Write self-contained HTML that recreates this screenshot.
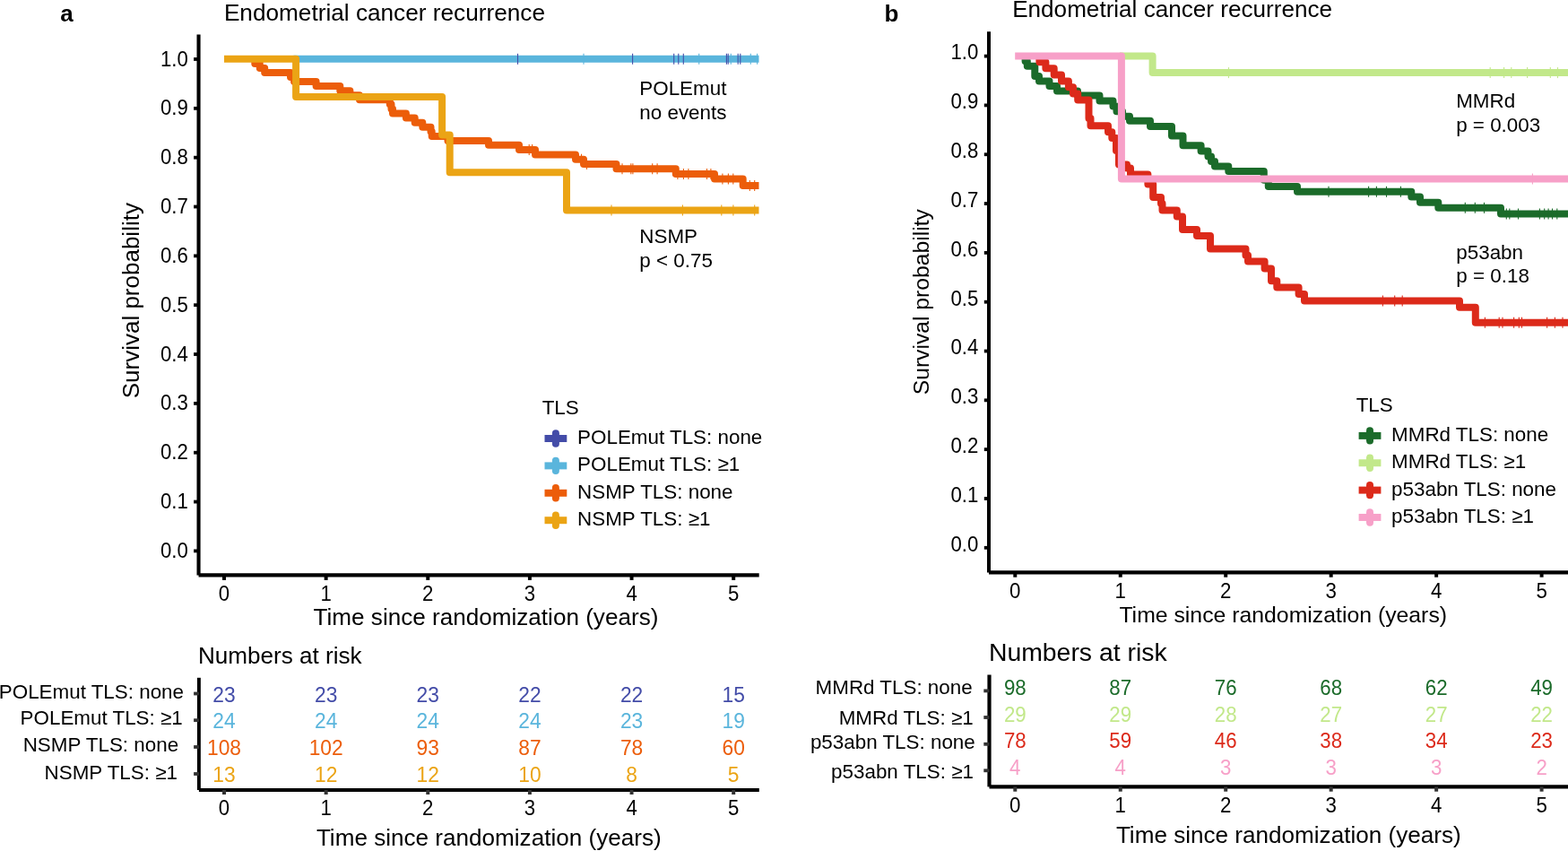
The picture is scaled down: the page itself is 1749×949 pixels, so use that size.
<!DOCTYPE html>
<html><head><meta charset="utf-8"><title>Endometrial cancer recurrence</title>
<style>html,body{margin:0;padding:0;background:#fff;overflow:hidden}svg{display:block}</style>
</head><body>
<svg width="1749" height="949" viewBox="0 0 1749 949" font-family='"Liberation Sans", Arial, Helvetica, sans-serif'>
<rect width="1749" height="949" fill="#fff"/>
<text x="67.20" y="24.00" font-size="26" font-weight="bold" fill="#000">a</text>
<text x="249.90" y="23.00" font-size="26.2" fill="#000">Endometrial cancer recurrence</text>
<line x1="221.55" y1="38.40" x2="221.55" y2="641.40" stroke="#000" stroke-width="4.1" stroke-linecap="butt"/>
<line x1="221.55" y1="641.40" x2="846.70" y2="641.40" stroke="#000" stroke-width="4.2" stroke-linecap="butt"/>
<line x1="216.10" y1="614.40" x2="221.55" y2="614.40" stroke="#000" stroke-width="3.8" stroke-linecap="butt"/>
<text transform="translate(209.80,622.00) scale(1,1.06)" font-size="22.2" text-anchor="end" fill="#000">0.0</text>
<line x1="216.10" y1="559.56" x2="221.55" y2="559.56" stroke="#000" stroke-width="3.8" stroke-linecap="butt"/>
<text transform="translate(209.80,567.16) scale(1,1.06)" font-size="22.2" text-anchor="end" fill="#000">0.1</text>
<line x1="216.10" y1="504.72" x2="221.55" y2="504.72" stroke="#000" stroke-width="3.8" stroke-linecap="butt"/>
<text transform="translate(209.80,512.32) scale(1,1.06)" font-size="22.2" text-anchor="end" fill="#000">0.2</text>
<line x1="216.10" y1="449.88" x2="221.55" y2="449.88" stroke="#000" stroke-width="3.8" stroke-linecap="butt"/>
<text transform="translate(209.80,457.48) scale(1,1.06)" font-size="22.2" text-anchor="end" fill="#000">0.3</text>
<line x1="216.10" y1="395.04" x2="221.55" y2="395.04" stroke="#000" stroke-width="3.8" stroke-linecap="butt"/>
<text transform="translate(209.80,402.64) scale(1,1.06)" font-size="22.2" text-anchor="end" fill="#000">0.4</text>
<line x1="216.10" y1="340.20" x2="221.55" y2="340.20" stroke="#000" stroke-width="3.8" stroke-linecap="butt"/>
<text transform="translate(209.80,347.80) scale(1,1.06)" font-size="22.2" text-anchor="end" fill="#000">0.5</text>
<line x1="216.10" y1="285.36" x2="221.55" y2="285.36" stroke="#000" stroke-width="3.8" stroke-linecap="butt"/>
<text transform="translate(209.80,292.96) scale(1,1.06)" font-size="22.2" text-anchor="end" fill="#000">0.6</text>
<line x1="216.10" y1="230.52" x2="221.55" y2="230.52" stroke="#000" stroke-width="3.8" stroke-linecap="butt"/>
<text transform="translate(209.80,238.12) scale(1,1.06)" font-size="22.2" text-anchor="end" fill="#000">0.7</text>
<line x1="216.10" y1="175.68" x2="221.55" y2="175.68" stroke="#000" stroke-width="3.8" stroke-linecap="butt"/>
<text transform="translate(209.80,183.28) scale(1,1.06)" font-size="22.2" text-anchor="end" fill="#000">0.8</text>
<line x1="216.10" y1="120.84" x2="221.55" y2="120.84" stroke="#000" stroke-width="3.8" stroke-linecap="butt"/>
<text transform="translate(209.80,128.44) scale(1,1.06)" font-size="22.2" text-anchor="end" fill="#000">0.9</text>
<line x1="216.10" y1="66.00" x2="221.55" y2="66.00" stroke="#000" stroke-width="3.8" stroke-linecap="butt"/>
<text transform="translate(209.80,73.60) scale(1,1.06)" font-size="22.2" text-anchor="end" fill="#000">1.0</text>
<line x1="250.00" y1="641.40" x2="250.00" y2="646.90" stroke="#000" stroke-width="4.0" stroke-linecap="butt"/>
<text transform="translate(250.00,669.70) scale(1,1.06)" font-size="22.2" text-anchor="middle" fill="#000">0</text>
<line x1="363.64" y1="641.40" x2="363.64" y2="646.90" stroke="#000" stroke-width="4.0" stroke-linecap="butt"/>
<text transform="translate(363.64,669.70) scale(1,1.06)" font-size="22.2" text-anchor="middle" fill="#000">1</text>
<line x1="477.28" y1="641.40" x2="477.28" y2="646.90" stroke="#000" stroke-width="4.0" stroke-linecap="butt"/>
<text transform="translate(477.28,669.70) scale(1,1.06)" font-size="22.2" text-anchor="middle" fill="#000">2</text>
<line x1="590.92" y1="641.40" x2="590.92" y2="646.90" stroke="#000" stroke-width="4.0" stroke-linecap="butt"/>
<text transform="translate(590.92,669.70) scale(1,1.06)" font-size="22.2" text-anchor="middle" fill="#000">3</text>
<line x1="704.56" y1="641.40" x2="704.56" y2="646.90" stroke="#000" stroke-width="4.0" stroke-linecap="butt"/>
<text transform="translate(704.56,669.70) scale(1,1.06)" font-size="22.2" text-anchor="middle" fill="#000">4</text>
<line x1="818.20" y1="641.40" x2="818.20" y2="646.90" stroke="#000" stroke-width="4.0" stroke-linecap="butt"/>
<text transform="translate(818.20,669.70) scale(1,1.06)" font-size="22.2" text-anchor="middle" fill="#000">5</text>
<text x="349.60" y="697.00" font-size="26.1" fill="#000">Time since randomization (years)</text>
<text transform="translate(154.5,444.3) rotate(-90)" font-size="26" fill="#000">Survival probability</text>
<path d="M327.50 65.80H846.50" fill="none" stroke="#5AB5DC" stroke-width="8" stroke-linejoin="round" stroke-linecap="butt"/>
<path d="M284.30 65.80H284.30V70.90H289.80V75.90H295.20V80.90H324.00V86.00H328.10V91.00H352.60V96.10H379.30V101.20H390.40V106.30H401.00V111.20H434.80V116.30H436.50V121.40H438.00V126.40H452.90V131.60H462.70V136.70H471.30V141.70H480.50V146.80H481.70V152.00H499.50V156.90H545.00V161.80H579.00V167.00H597.00V172.40H642.00V177.70H651.00V182.90H687.50V188.20H753.80V194.00H797.00V199.50H828.70V207.00H846.50" fill="none" stroke="#EC5D0A" stroke-width="8" stroke-linejoin="round" stroke-linecap="butt"/>
<path d="M250.00 65.80H330.10V108.00H493.10V150.40H501.70V192.20H632.00V234.50H846.50" fill="none" stroke="#EBA415" stroke-width="8" stroke-linejoin="round" stroke-linecap="butt"/>
<line x1="577.50" y1="59.80" x2="577.50" y2="71.80" stroke="#434CA8" stroke-width="1.1" stroke-linecap="butt"/>
<line x1="705.60" y1="59.80" x2="705.60" y2="71.80" stroke="#434CA8" stroke-width="1.1" stroke-linecap="butt"/>
<line x1="751.70" y1="59.80" x2="751.70" y2="71.80" stroke="#434CA8" stroke-width="1.1" stroke-linecap="butt"/>
<line x1="756.80" y1="59.80" x2="756.80" y2="71.80" stroke="#434CA8" stroke-width="1.1" stroke-linecap="butt"/>
<line x1="762.30" y1="59.80" x2="762.30" y2="71.80" stroke="#434CA8" stroke-width="1.1" stroke-linecap="butt"/>
<line x1="810.40" y1="59.80" x2="810.40" y2="71.80" stroke="#434CA8" stroke-width="1.1" stroke-linecap="butt"/>
<line x1="812.20" y1="59.80" x2="812.20" y2="71.80" stroke="#434CA8" stroke-width="1.1" stroke-linecap="butt"/>
<line x1="823.20" y1="59.80" x2="823.20" y2="71.80" stroke="#434CA8" stroke-width="1.1" stroke-linecap="butt"/>
<line x1="825.80" y1="59.80" x2="825.80" y2="71.80" stroke="#434CA8" stroke-width="1.1" stroke-linecap="butt"/>
<line x1="651.00" y1="59.80" x2="651.00" y2="71.80" stroke="#5AB5DC" stroke-width="1.1" stroke-linecap="butt"/>
<line x1="779.70" y1="59.80" x2="779.70" y2="71.80" stroke="#5AB5DC" stroke-width="1.1" stroke-linecap="butt"/>
<line x1="815.30" y1="59.80" x2="815.30" y2="71.80" stroke="#5AB5DC" stroke-width="1.1" stroke-linecap="butt"/>
<line x1="837.30" y1="59.80" x2="837.30" y2="71.80" stroke="#5AB5DC" stroke-width="1.1" stroke-linecap="butt"/>
<line x1="844.60" y1="59.80" x2="844.60" y2="71.80" stroke="#5AB5DC" stroke-width="1.1" stroke-linecap="butt"/>
<line x1="590.20" y1="160.90" x2="590.20" y2="172.90" stroke="#EC5D0A" stroke-width="1.1" stroke-linecap="butt"/>
<line x1="593.60" y1="160.90" x2="593.60" y2="172.90" stroke="#EC5D0A" stroke-width="1.1" stroke-linecap="butt"/>
<line x1="648.50" y1="171.70" x2="648.50" y2="183.70" stroke="#EC5D0A" stroke-width="1.1" stroke-linecap="butt"/>
<line x1="654.50" y1="176.90" x2="654.50" y2="188.90" stroke="#EC5D0A" stroke-width="1.1" stroke-linecap="butt"/>
<line x1="694.00" y1="182.20" x2="694.00" y2="194.20" stroke="#EC5D0A" stroke-width="1.1" stroke-linecap="butt"/>
<line x1="703.80" y1="182.20" x2="703.80" y2="194.20" stroke="#EC5D0A" stroke-width="1.1" stroke-linecap="butt"/>
<line x1="705.90" y1="182.20" x2="705.90" y2="194.20" stroke="#EC5D0A" stroke-width="1.1" stroke-linecap="butt"/>
<line x1="727.70" y1="182.20" x2="727.70" y2="194.20" stroke="#EC5D0A" stroke-width="1.1" stroke-linecap="butt"/>
<line x1="733.10" y1="182.20" x2="733.10" y2="194.20" stroke="#EC5D0A" stroke-width="1.1" stroke-linecap="butt"/>
<line x1="755.90" y1="188.00" x2="755.90" y2="200.00" stroke="#EC5D0A" stroke-width="1.1" stroke-linecap="butt"/>
<line x1="762.40" y1="188.00" x2="762.40" y2="200.00" stroke="#EC5D0A" stroke-width="1.1" stroke-linecap="butt"/>
<line x1="767.90" y1="188.00" x2="767.90" y2="200.00" stroke="#EC5D0A" stroke-width="1.1" stroke-linecap="butt"/>
<line x1="788.50" y1="188.00" x2="788.50" y2="200.00" stroke="#EC5D0A" stroke-width="1.1" stroke-linecap="butt"/>
<line x1="792.90" y1="188.00" x2="792.90" y2="200.00" stroke="#EC5D0A" stroke-width="1.1" stroke-linecap="butt"/>
<line x1="805.90" y1="193.50" x2="805.90" y2="205.50" stroke="#EC5D0A" stroke-width="1.1" stroke-linecap="butt"/>
<line x1="812.40" y1="193.50" x2="812.40" y2="205.50" stroke="#EC5D0A" stroke-width="1.1" stroke-linecap="butt"/>
<line x1="817.80" y1="193.50" x2="817.80" y2="205.50" stroke="#EC5D0A" stroke-width="1.1" stroke-linecap="butt"/>
<line x1="836.30" y1="201.00" x2="836.30" y2="213.00" stroke="#EC5D0A" stroke-width="1.1" stroke-linecap="butt"/>
<line x1="841.70" y1="201.00" x2="841.70" y2="213.00" stroke="#EC5D0A" stroke-width="1.1" stroke-linecap="butt"/>
<line x1="682.00" y1="228.50" x2="682.00" y2="240.50" stroke="#EBA415" stroke-width="1.1" stroke-linecap="butt"/>
<line x1="761.40" y1="228.50" x2="761.40" y2="240.50" stroke="#EBA415" stroke-width="1.1" stroke-linecap="butt"/>
<line x1="804.80" y1="228.50" x2="804.80" y2="240.50" stroke="#EBA415" stroke-width="1.1" stroke-linecap="butt"/>
<line x1="817.90" y1="228.50" x2="817.90" y2="240.50" stroke="#EBA415" stroke-width="1.1" stroke-linecap="butt"/>
<line x1="841.70" y1="228.50" x2="841.70" y2="240.50" stroke="#EBA415" stroke-width="1.1" stroke-linecap="butt"/>
<text x="713.30" y="106.20" font-size="22.4" fill="#000">POLEmut</text>
<text x="713.30" y="132.80" font-size="22.4" fill="#000">no events</text>
<text x="713.30" y="270.90" font-size="22.4" fill="#000">NSMP</text>
<text x="713.30" y="297.50" font-size="22.4" fill="#000">p &lt; 0.75</text>
<text x="604.70" y="461.70" font-size="22.4" fill="#000">TLS</text>
<line x1="607.50" y1="489.00" x2="632.30" y2="489.00" stroke="#434CA8" stroke-width="8" stroke-linecap="butt"/>
<line x1="619.90" y1="483.30" x2="619.90" y2="494.70" stroke="#434CA8" stroke-width="8" stroke-linecap="round"/>
<text x="644.10" y="494.90" font-size="22.4" fill="#000">POLEmut TLS: none</text>
<line x1="607.50" y1="519.40" x2="632.30" y2="519.40" stroke="#5AB5DC" stroke-width="8" stroke-linecap="butt"/>
<line x1="619.90" y1="513.70" x2="619.90" y2="525.10" stroke="#5AB5DC" stroke-width="8" stroke-linecap="round"/>
<text x="644.10" y="525.30" font-size="22.4" fill="#000">POLEmut TLS: ≥1</text>
<line x1="607.50" y1="549.80" x2="632.30" y2="549.80" stroke="#EC5D0A" stroke-width="8" stroke-linecap="butt"/>
<line x1="619.90" y1="544.10" x2="619.90" y2="555.50" stroke="#EC5D0A" stroke-width="8" stroke-linecap="round"/>
<text x="644.10" y="555.70" font-size="22.4" fill="#000">NSMP TLS: none</text>
<line x1="607.50" y1="580.20" x2="632.30" y2="580.20" stroke="#EBA415" stroke-width="8" stroke-linecap="butt"/>
<line x1="619.90" y1="574.50" x2="619.90" y2="585.90" stroke="#EBA415" stroke-width="8" stroke-linecap="round"/>
<text x="644.10" y="586.10" font-size="22.4" fill="#000">NSMP TLS: ≥1</text>
<text x="220.90" y="740.10" font-size="26.1" fill="#000">Numbers at risk</text>
<line x1="221.90" y1="755.80" x2="221.90" y2="881.00" stroke="#000" stroke-width="3.9" stroke-linecap="butt"/>
<line x1="221.90" y1="881.00" x2="846.80" y2="881.00" stroke="#000" stroke-width="3.9" stroke-linecap="butt"/>
<text x="-1.20" y="778.50" font-size="22.4" fill="#000">POLEmut TLS: none</text>
<line x1="216.10" y1="773.50" x2="221.90" y2="773.50" stroke="#333333" stroke-width="3.8" stroke-linecap="butt"/>
<text transform="translate(250.00,782.50) scale(1,1.06)" font-size="22.8" text-anchor="middle" fill="#434CA8">23</text>
<text transform="translate(363.64,782.50) scale(1,1.06)" font-size="22.8" text-anchor="middle" fill="#434CA8">23</text>
<text transform="translate(477.28,782.50) scale(1,1.06)" font-size="22.8" text-anchor="middle" fill="#434CA8">23</text>
<text transform="translate(590.92,782.50) scale(1,1.06)" font-size="22.8" text-anchor="middle" fill="#434CA8">22</text>
<text transform="translate(704.56,782.50) scale(1,1.06)" font-size="22.8" text-anchor="middle" fill="#434CA8">22</text>
<text transform="translate(818.20,782.50) scale(1,1.06)" font-size="22.8" text-anchor="middle" fill="#434CA8">15</text>
<text x="22.60" y="808.00" font-size="22.4" fill="#000">POLEmut TLS: ≥1</text>
<line x1="216.10" y1="803.20" x2="221.90" y2="803.20" stroke="#333333" stroke-width="3.8" stroke-linecap="butt"/>
<text transform="translate(250.00,811.90) scale(1,1.06)" font-size="22.8" text-anchor="middle" fill="#5AB5DC">24</text>
<text transform="translate(363.64,811.90) scale(1,1.06)" font-size="22.8" text-anchor="middle" fill="#5AB5DC">24</text>
<text transform="translate(477.28,811.90) scale(1,1.06)" font-size="22.8" text-anchor="middle" fill="#5AB5DC">24</text>
<text transform="translate(590.92,811.90) scale(1,1.06)" font-size="22.8" text-anchor="middle" fill="#5AB5DC">24</text>
<text transform="translate(704.56,811.90) scale(1,1.06)" font-size="22.8" text-anchor="middle" fill="#5AB5DC">23</text>
<text transform="translate(818.20,811.90) scale(1,1.06)" font-size="22.8" text-anchor="middle" fill="#5AB5DC">19</text>
<text x="25.70" y="838.00" font-size="22.4" fill="#000">NSMP TLS: none</text>
<line x1="216.10" y1="833.00" x2="221.90" y2="833.00" stroke="#333333" stroke-width="3.8" stroke-linecap="butt"/>
<text transform="translate(250.00,841.70) scale(1,1.06)" font-size="22.8" text-anchor="middle" fill="#EC5D0A">108</text>
<text transform="translate(363.64,841.70) scale(1,1.06)" font-size="22.8" text-anchor="middle" fill="#EC5D0A">102</text>
<text transform="translate(477.28,841.70) scale(1,1.06)" font-size="22.8" text-anchor="middle" fill="#EC5D0A">93</text>
<text transform="translate(590.92,841.70) scale(1,1.06)" font-size="22.8" text-anchor="middle" fill="#EC5D0A">87</text>
<text transform="translate(704.56,841.70) scale(1,1.06)" font-size="22.8" text-anchor="middle" fill="#EC5D0A">78</text>
<text transform="translate(818.20,841.70) scale(1,1.06)" font-size="22.8" text-anchor="middle" fill="#EC5D0A">60</text>
<text x="49.60" y="868.50" font-size="22.4" fill="#000">NSMP TLS: ≥1</text>
<line x1="216.10" y1="863.00" x2="221.90" y2="863.00" stroke="#333333" stroke-width="3.8" stroke-linecap="butt"/>
<text transform="translate(250.00,871.90) scale(1,1.06)" font-size="22.8" text-anchor="middle" fill="#EBA415">13</text>
<text transform="translate(363.64,871.90) scale(1,1.06)" font-size="22.8" text-anchor="middle" fill="#EBA415">12</text>
<text transform="translate(477.28,871.90) scale(1,1.06)" font-size="22.8" text-anchor="middle" fill="#EBA415">12</text>
<text transform="translate(590.92,871.90) scale(1,1.06)" font-size="22.8" text-anchor="middle" fill="#EBA415">10</text>
<text transform="translate(704.56,871.90) scale(1,1.06)" font-size="22.8" text-anchor="middle" fill="#EBA415">8</text>
<text transform="translate(818.20,871.90) scale(1,1.06)" font-size="22.8" text-anchor="middle" fill="#EBA415">5</text>
<line x1="250.00" y1="881.00" x2="250.00" y2="886.00" stroke="#333333" stroke-width="4.0" stroke-linecap="butt"/>
<text transform="translate(250.00,908.90) scale(1,1.06)" font-size="22.2" text-anchor="middle" fill="#000">0</text>
<line x1="363.64" y1="881.00" x2="363.64" y2="886.00" stroke="#333333" stroke-width="4.0" stroke-linecap="butt"/>
<text transform="translate(363.64,908.90) scale(1,1.06)" font-size="22.2" text-anchor="middle" fill="#000">1</text>
<line x1="477.28" y1="881.00" x2="477.28" y2="886.00" stroke="#333333" stroke-width="4.0" stroke-linecap="butt"/>
<text transform="translate(477.28,908.90) scale(1,1.06)" font-size="22.2" text-anchor="middle" fill="#000">2</text>
<line x1="590.92" y1="881.00" x2="590.92" y2="886.00" stroke="#333333" stroke-width="4.0" stroke-linecap="butt"/>
<text transform="translate(590.92,908.90) scale(1,1.06)" font-size="22.2" text-anchor="middle" fill="#000">3</text>
<line x1="704.56" y1="881.00" x2="704.56" y2="886.00" stroke="#333333" stroke-width="4.0" stroke-linecap="butt"/>
<text transform="translate(704.56,908.90) scale(1,1.06)" font-size="22.2" text-anchor="middle" fill="#000">4</text>
<line x1="818.20" y1="881.00" x2="818.20" y2="886.00" stroke="#333333" stroke-width="4.0" stroke-linecap="butt"/>
<text transform="translate(818.20,908.90) scale(1,1.06)" font-size="22.2" text-anchor="middle" fill="#000">5</text>
<text x="352.90" y="943.40" font-size="26.1" fill="#000">Time since randomization (years)</text>
<text x="986.40" y="24.10" font-size="26" font-weight="bold" fill="#000">b</text>
<text x="1129.20" y="19.00" font-size="26.1" fill="#000">Endometrial cancer recurrence</text>
<line x1="1103.00" y1="35.20" x2="1103.00" y2="638.40" stroke="#000" stroke-width="4.0" stroke-linecap="butt"/>
<line x1="1103.00" y1="638.40" x2="1752.00" y2="638.40" stroke="#000" stroke-width="4.1" stroke-linecap="butt"/>
<line x1="1097.80" y1="610.80" x2="1103.00" y2="610.80" stroke="#000" stroke-width="3.8" stroke-linecap="butt"/>
<text transform="translate(1091.30,614.60) scale(1,1.06)" font-size="22.2" text-anchor="end" fill="#000">0.0</text>
<line x1="1097.80" y1="555.98" x2="1103.00" y2="555.98" stroke="#000" stroke-width="3.8" stroke-linecap="butt"/>
<text transform="translate(1091.30,559.78) scale(1,1.06)" font-size="22.2" text-anchor="end" fill="#000">0.1</text>
<line x1="1097.80" y1="501.16" x2="1103.00" y2="501.16" stroke="#000" stroke-width="3.8" stroke-linecap="butt"/>
<text transform="translate(1091.30,504.96) scale(1,1.06)" font-size="22.2" text-anchor="end" fill="#000">0.2</text>
<line x1="1097.80" y1="446.34" x2="1103.00" y2="446.34" stroke="#000" stroke-width="3.8" stroke-linecap="butt"/>
<text transform="translate(1091.30,450.14) scale(1,1.06)" font-size="22.2" text-anchor="end" fill="#000">0.3</text>
<line x1="1097.80" y1="391.52" x2="1103.00" y2="391.52" stroke="#000" stroke-width="3.8" stroke-linecap="butt"/>
<text transform="translate(1091.30,395.32) scale(1,1.06)" font-size="22.2" text-anchor="end" fill="#000">0.4</text>
<line x1="1097.80" y1="336.70" x2="1103.00" y2="336.70" stroke="#000" stroke-width="3.8" stroke-linecap="butt"/>
<text transform="translate(1091.30,340.50) scale(1,1.06)" font-size="22.2" text-anchor="end" fill="#000">0.5</text>
<line x1="1097.80" y1="281.88" x2="1103.00" y2="281.88" stroke="#000" stroke-width="3.8" stroke-linecap="butt"/>
<text transform="translate(1091.30,285.68) scale(1,1.06)" font-size="22.2" text-anchor="end" fill="#000">0.6</text>
<line x1="1097.80" y1="227.06" x2="1103.00" y2="227.06" stroke="#000" stroke-width="3.8" stroke-linecap="butt"/>
<text transform="translate(1091.30,230.86) scale(1,1.06)" font-size="22.2" text-anchor="end" fill="#000">0.7</text>
<line x1="1097.80" y1="172.24" x2="1103.00" y2="172.24" stroke="#000" stroke-width="3.8" stroke-linecap="butt"/>
<text transform="translate(1091.30,176.04) scale(1,1.06)" font-size="22.2" text-anchor="end" fill="#000">0.8</text>
<line x1="1097.80" y1="117.42" x2="1103.00" y2="117.42" stroke="#000" stroke-width="3.8" stroke-linecap="butt"/>
<text transform="translate(1091.30,121.22) scale(1,1.06)" font-size="22.2" text-anchor="end" fill="#000">0.9</text>
<line x1="1097.80" y1="62.60" x2="1103.00" y2="62.60" stroke="#000" stroke-width="3.8" stroke-linecap="butt"/>
<text transform="translate(1091.30,66.40) scale(1,1.06)" font-size="22.2" text-anchor="end" fill="#000">1.0</text>
<line x1="1132.30" y1="638.40" x2="1132.30" y2="643.70" stroke="#000" stroke-width="4.0" stroke-linecap="butt"/>
<text transform="translate(1132.30,666.60) scale(1,1.06)" font-size="22.3" text-anchor="middle" fill="#000">0</text>
<line x1="1249.76" y1="638.40" x2="1249.76" y2="643.70" stroke="#000" stroke-width="4.0" stroke-linecap="butt"/>
<text transform="translate(1249.76,666.60) scale(1,1.06)" font-size="22.3" text-anchor="middle" fill="#000">1</text>
<line x1="1367.22" y1="638.40" x2="1367.22" y2="643.70" stroke="#000" stroke-width="4.0" stroke-linecap="butt"/>
<text transform="translate(1367.22,666.60) scale(1,1.06)" font-size="22.3" text-anchor="middle" fill="#000">2</text>
<line x1="1484.68" y1="638.40" x2="1484.68" y2="643.70" stroke="#000" stroke-width="4.0" stroke-linecap="butt"/>
<text transform="translate(1484.68,666.60) scale(1,1.06)" font-size="22.3" text-anchor="middle" fill="#000">3</text>
<line x1="1602.14" y1="638.40" x2="1602.14" y2="643.70" stroke="#000" stroke-width="4.0" stroke-linecap="butt"/>
<text transform="translate(1602.14,666.60) scale(1,1.06)" font-size="22.3" text-anchor="middle" fill="#000">4</text>
<line x1="1719.60" y1="638.40" x2="1719.60" y2="643.70" stroke="#000" stroke-width="4.0" stroke-linecap="butt"/>
<text transform="translate(1719.60,666.60) scale(1,1.06)" font-size="22.3" text-anchor="middle" fill="#000">5</text>
<text x="1248.40" y="693.80" font-size="24.8" fill="#000">Time since randomization (years)</text>
<text transform="translate(1035.6,440.3) rotate(-90)" font-size="24.7" fill="#000">Survival probability</text>
<path d="M1143.60 62.50H1143.60V68.20H1145.80V73.70H1154.30V84.90H1159.00V90.50H1170.50V96.00H1179.00V101.60H1202.00V106.60H1226.50V112.60H1241.50V118.60H1245.50V124.30H1252.00V129.80H1260.00V134.80H1283.00V140.90H1307.00V151.60H1319.50V162.30H1339.60V168.60H1347.50V174.50H1351.00V180.00H1355.00V185.50H1370.30V191.00H1409.80V200.80H1414.80V207.90H1447.00V213.80H1574.30V219.50H1584.00V225.70H1604.30V231.80H1674.00V238.50H1752.00" fill="none" stroke="#1B6B2A" stroke-width="8" stroke-linejoin="round" stroke-linecap="butt"/>
<path d="M1249.00 62.50H1285.60V81.10H1752.00" fill="none" stroke="#C2E88A" stroke-width="8" stroke-linejoin="round" stroke-linecap="butt"/>
<path d="M1159.40 62.50H1159.40V69.30H1166.40V76.30H1175.70V83.40H1184.00V90.40H1191.90V97.30H1197.00V104.60H1202.20V111.50H1214.50V132.00H1216.50V140.30H1236.00V147.20H1240.30V154.00H1245.00V168.00H1248.00V183.50H1257.00V187.60H1261.00V194.50H1280.40V205.60H1286.20V220.10H1295.00V227.00H1296.50V234.60H1312.80V241.60H1319.00V256.00H1335.00V263.00H1350.00V277.50H1389.50V284.80H1392.00V291.50H1410.60V299.50H1418.00V313.20H1424.30V320.60H1448.60V328.00H1455.00V335.40H1628.00V342.80H1645.80V359.70H1752.00" fill="none" stroke="#DC2A1A" stroke-width="8" stroke-linejoin="round" stroke-linecap="butt"/>
<path d="M1132.20 62.50H1250.90V199.50H1752.00" fill="none" stroke="#F7A0C8" stroke-width="8" stroke-linejoin="round" stroke-linecap="butt"/>
<line x1="1370.50" y1="75.10" x2="1370.50" y2="87.10" stroke="#C2E88A" stroke-width="1.1" stroke-linecap="butt"/>
<line x1="1662.20" y1="75.10" x2="1662.20" y2="87.10" stroke="#C2E88A" stroke-width="1.1" stroke-linecap="butt"/>
<line x1="1677.60" y1="75.10" x2="1677.60" y2="87.10" stroke="#C2E88A" stroke-width="1.1" stroke-linecap="butt"/>
<line x1="1685.80" y1="75.10" x2="1685.80" y2="87.10" stroke="#C2E88A" stroke-width="1.1" stroke-linecap="butt"/>
<line x1="1703.60" y1="75.10" x2="1703.60" y2="87.10" stroke="#C2E88A" stroke-width="1.1" stroke-linecap="butt"/>
<line x1="1729.30" y1="75.10" x2="1729.30" y2="87.10" stroke="#C2E88A" stroke-width="1.1" stroke-linecap="butt"/>
<line x1="1737.50" y1="75.10" x2="1737.50" y2="87.10" stroke="#C2E88A" stroke-width="1.1" stroke-linecap="butt"/>
<line x1="1482.00" y1="207.80" x2="1482.00" y2="219.80" stroke="#1B6B2A" stroke-width="1.1" stroke-linecap="butt"/>
<line x1="1526.60" y1="207.80" x2="1526.60" y2="219.80" stroke="#1B6B2A" stroke-width="1.1" stroke-linecap="butt"/>
<line x1="1535.40" y1="207.80" x2="1535.40" y2="219.80" stroke="#1B6B2A" stroke-width="1.1" stroke-linecap="butt"/>
<line x1="1546.50" y1="207.80" x2="1546.50" y2="219.80" stroke="#1B6B2A" stroke-width="1.1" stroke-linecap="butt"/>
<line x1="1562.40" y1="207.80" x2="1562.40" y2="219.80" stroke="#1B6B2A" stroke-width="1.1" stroke-linecap="butt"/>
<line x1="1634.30" y1="225.80" x2="1634.30" y2="237.80" stroke="#1B6B2A" stroke-width="1.1" stroke-linecap="butt"/>
<line x1="1645.30" y1="225.80" x2="1645.30" y2="237.80" stroke="#1B6B2A" stroke-width="1.1" stroke-linecap="butt"/>
<line x1="1655.50" y1="225.80" x2="1655.50" y2="237.80" stroke="#1B6B2A" stroke-width="1.1" stroke-linecap="butt"/>
<line x1="1680.30" y1="232.50" x2="1680.30" y2="244.50" stroke="#1B6B2A" stroke-width="1.1" stroke-linecap="butt"/>
<line x1="1683.80" y1="232.50" x2="1683.80" y2="244.50" stroke="#1B6B2A" stroke-width="1.1" stroke-linecap="butt"/>
<line x1="1693.50" y1="232.50" x2="1693.50" y2="244.50" stroke="#1B6B2A" stroke-width="1.1" stroke-linecap="butt"/>
<line x1="1717.40" y1="232.50" x2="1717.40" y2="244.50" stroke="#1B6B2A" stroke-width="1.1" stroke-linecap="butt"/>
<line x1="1722.70" y1="232.50" x2="1722.70" y2="244.50" stroke="#1B6B2A" stroke-width="1.1" stroke-linecap="butt"/>
<line x1="1727.10" y1="232.50" x2="1727.10" y2="244.50" stroke="#1B6B2A" stroke-width="1.1" stroke-linecap="butt"/>
<line x1="1731.50" y1="232.50" x2="1731.50" y2="244.50" stroke="#1B6B2A" stroke-width="1.1" stroke-linecap="butt"/>
<line x1="1736.80" y1="232.50" x2="1736.80" y2="244.50" stroke="#1B6B2A" stroke-width="1.1" stroke-linecap="butt"/>
<line x1="1542.40" y1="329.40" x2="1542.40" y2="341.40" stroke="#DC2A1A" stroke-width="1.1" stroke-linecap="butt"/>
<line x1="1555.70" y1="329.40" x2="1555.70" y2="341.40" stroke="#DC2A1A" stroke-width="1.1" stroke-linecap="butt"/>
<line x1="1564.20" y1="329.40" x2="1564.20" y2="341.40" stroke="#DC2A1A" stroke-width="1.1" stroke-linecap="butt"/>
<line x1="1656.40" y1="353.70" x2="1656.40" y2="365.70" stroke="#DC2A1A" stroke-width="1.1" stroke-linecap="butt"/>
<line x1="1672.20" y1="353.70" x2="1672.20" y2="365.70" stroke="#DC2A1A" stroke-width="1.1" stroke-linecap="butt"/>
<line x1="1676.00" y1="353.70" x2="1676.00" y2="365.70" stroke="#DC2A1A" stroke-width="1.1" stroke-linecap="butt"/>
<line x1="1688.60" y1="353.70" x2="1688.60" y2="365.70" stroke="#DC2A1A" stroke-width="1.1" stroke-linecap="butt"/>
<line x1="1694.30" y1="353.70" x2="1694.30" y2="365.70" stroke="#DC2A1A" stroke-width="1.1" stroke-linecap="butt"/>
<line x1="1697.50" y1="353.70" x2="1697.50" y2="365.70" stroke="#DC2A1A" stroke-width="1.1" stroke-linecap="butt"/>
<line x1="1725.60" y1="353.70" x2="1725.60" y2="365.70" stroke="#DC2A1A" stroke-width="1.1" stroke-linecap="butt"/>
<line x1="1734.40" y1="353.70" x2="1734.40" y2="365.70" stroke="#DC2A1A" stroke-width="1.1" stroke-linecap="butt"/>
<line x1="1743.00" y1="353.70" x2="1743.00" y2="365.70" stroke="#DC2A1A" stroke-width="1.1" stroke-linecap="butt"/>
<line x1="1709.40" y1="193.50" x2="1709.40" y2="205.50" stroke="#F7A0C8" stroke-width="1.1" stroke-linecap="butt"/>
<text x="1624.20" y="119.70" font-size="22.4" fill="#000">MMRd</text>
<text x="1624.20" y="146.50" font-size="22.4" fill="#000">p = 0.003</text>
<text x="1624.30" y="289.00" font-size="22.4" fill="#000">p53abn</text>
<text x="1624.30" y="315.40" font-size="22.4" fill="#000">p = 0.18</text>
<text x="1512.70" y="458.50" font-size="22.4" fill="#000">TLS</text>
<line x1="1515.60" y1="485.90" x2="1540.40" y2="485.90" stroke="#1B6B2A" stroke-width="8" stroke-linecap="butt"/>
<line x1="1528.00" y1="480.20" x2="1528.00" y2="491.60" stroke="#1B6B2A" stroke-width="8" stroke-linecap="round"/>
<text x="1552.10" y="491.90" font-size="22.4" fill="#000">MMRd TLS: none</text>
<line x1="1515.60" y1="516.25" x2="1540.40" y2="516.25" stroke="#C2E88A" stroke-width="8" stroke-linecap="butt"/>
<line x1="1528.00" y1="510.55" x2="1528.00" y2="521.95" stroke="#C2E88A" stroke-width="8" stroke-linecap="round"/>
<text x="1552.10" y="522.25" font-size="22.4" fill="#000">MMRd TLS: ≥1</text>
<line x1="1515.60" y1="546.60" x2="1540.40" y2="546.60" stroke="#DC2A1A" stroke-width="8" stroke-linecap="butt"/>
<line x1="1528.00" y1="540.90" x2="1528.00" y2="552.30" stroke="#DC2A1A" stroke-width="8" stroke-linecap="round"/>
<text x="1552.10" y="552.60" font-size="22.4" fill="#000">p53abn TLS: none</text>
<line x1="1515.60" y1="576.95" x2="1540.40" y2="576.95" stroke="#F7A0C8" stroke-width="8" stroke-linecap="butt"/>
<line x1="1528.00" y1="571.25" x2="1528.00" y2="582.65" stroke="#F7A0C8" stroke-width="8" stroke-linecap="round"/>
<text x="1552.10" y="582.95" font-size="22.4" fill="#000">p53abn TLS: ≥1</text>
<text x="1102.90" y="736.70" font-size="28.4" fill="#000">Numbers at risk</text>
<line x1="1103.50" y1="752.50" x2="1103.50" y2="877.40" stroke="#000" stroke-width="4.2" stroke-linecap="butt"/>
<line x1="1103.50" y1="877.40" x2="1752.00" y2="877.40" stroke="#000" stroke-width="4.4" stroke-linecap="butt"/>
<text x="909.60" y="773.60" font-size="22.4" fill="#000">MMRd TLS: none</text>
<line x1="1097.30" y1="770.40" x2="1103.50" y2="770.40" stroke="#333333" stroke-width="3.8" stroke-linecap="butt"/>
<text transform="translate(1132.30,774.80) scale(1,1.06)" font-size="22.3" text-anchor="middle" fill="#1B6B2A">98</text>
<text transform="translate(1249.76,774.80) scale(1,1.06)" font-size="22.3" text-anchor="middle" fill="#1B6B2A">87</text>
<text transform="translate(1367.22,774.80) scale(1,1.06)" font-size="22.3" text-anchor="middle" fill="#1B6B2A">76</text>
<text transform="translate(1484.68,774.80) scale(1,1.06)" font-size="22.3" text-anchor="middle" fill="#1B6B2A">68</text>
<text transform="translate(1602.14,774.80) scale(1,1.06)" font-size="22.3" text-anchor="middle" fill="#1B6B2A">62</text>
<text transform="translate(1719.60,774.80) scale(1,1.06)" font-size="22.3" text-anchor="middle" fill="#1B6B2A">49</text>
<text x="935.70" y="808.30" font-size="22.4" fill="#000">MMRd TLS: ≥1</text>
<line x1="1097.30" y1="800.00" x2="1103.50" y2="800.00" stroke="#333333" stroke-width="3.8" stroke-linecap="butt"/>
<text transform="translate(1132.30,804.50) scale(1,1.06)" font-size="22.3" text-anchor="middle" fill="#C2E88A">29</text>
<text transform="translate(1249.76,804.50) scale(1,1.06)" font-size="22.3" text-anchor="middle" fill="#C2E88A">29</text>
<text transform="translate(1367.22,804.50) scale(1,1.06)" font-size="22.3" text-anchor="middle" fill="#C2E88A">28</text>
<text transform="translate(1484.68,804.50) scale(1,1.06)" font-size="22.3" text-anchor="middle" fill="#C2E88A">27</text>
<text transform="translate(1602.14,804.50) scale(1,1.06)" font-size="22.3" text-anchor="middle" fill="#C2E88A">27</text>
<text transform="translate(1719.60,804.50) scale(1,1.06)" font-size="22.3" text-anchor="middle" fill="#C2E88A">22</text>
<text x="903.90" y="834.60" font-size="22.4" fill="#000">p53abn TLS: none</text>
<line x1="1097.30" y1="829.80" x2="1103.50" y2="829.80" stroke="#333333" stroke-width="3.8" stroke-linecap="butt"/>
<text transform="translate(1132.30,834.20) scale(1,1.06)" font-size="22.3" text-anchor="middle" fill="#DC2A1A">78</text>
<text transform="translate(1249.76,834.20) scale(1,1.06)" font-size="22.3" text-anchor="middle" fill="#DC2A1A">59</text>
<text transform="translate(1367.22,834.20) scale(1,1.06)" font-size="22.3" text-anchor="middle" fill="#DC2A1A">46</text>
<text transform="translate(1484.68,834.20) scale(1,1.06)" font-size="22.3" text-anchor="middle" fill="#DC2A1A">38</text>
<text transform="translate(1602.14,834.20) scale(1,1.06)" font-size="22.3" text-anchor="middle" fill="#DC2A1A">34</text>
<text transform="translate(1719.60,834.20) scale(1,1.06)" font-size="22.3" text-anchor="middle" fill="#DC2A1A">23</text>
<text x="927.10" y="867.90" font-size="22.4" fill="#000">p53abn TLS: ≥1</text>
<line x1="1097.30" y1="859.30" x2="1103.50" y2="859.30" stroke="#333333" stroke-width="3.8" stroke-linecap="butt"/>
<text transform="translate(1132.30,863.60) scale(1,1.06)" font-size="22.3" text-anchor="middle" fill="#F7A0C8">4</text>
<text transform="translate(1249.76,863.60) scale(1,1.06)" font-size="22.3" text-anchor="middle" fill="#F7A0C8">4</text>
<text transform="translate(1367.22,863.60) scale(1,1.06)" font-size="22.3" text-anchor="middle" fill="#F7A0C8">3</text>
<text transform="translate(1484.68,863.60) scale(1,1.06)" font-size="22.3" text-anchor="middle" fill="#F7A0C8">3</text>
<text transform="translate(1602.14,863.60) scale(1,1.06)" font-size="22.3" text-anchor="middle" fill="#F7A0C8">3</text>
<text transform="translate(1719.60,863.60) scale(1,1.06)" font-size="22.3" text-anchor="middle" fill="#F7A0C8">2</text>
<line x1="1132.30" y1="877.40" x2="1132.30" y2="882.70" stroke="#333333" stroke-width="4.0" stroke-linecap="butt"/>
<text transform="translate(1132.30,906.20) scale(1,1.06)" font-size="22.3" text-anchor="middle" fill="#000">0</text>
<line x1="1249.76" y1="877.40" x2="1249.76" y2="882.70" stroke="#333333" stroke-width="4.0" stroke-linecap="butt"/>
<text transform="translate(1249.76,906.20) scale(1,1.06)" font-size="22.3" text-anchor="middle" fill="#000">1</text>
<line x1="1367.22" y1="877.40" x2="1367.22" y2="882.70" stroke="#333333" stroke-width="4.0" stroke-linecap="butt"/>
<text transform="translate(1367.22,906.20) scale(1,1.06)" font-size="22.3" text-anchor="middle" fill="#000">2</text>
<line x1="1484.68" y1="877.40" x2="1484.68" y2="882.70" stroke="#333333" stroke-width="4.0" stroke-linecap="butt"/>
<text transform="translate(1484.68,906.20) scale(1,1.06)" font-size="22.3" text-anchor="middle" fill="#000">3</text>
<line x1="1602.14" y1="877.40" x2="1602.14" y2="882.70" stroke="#333333" stroke-width="4.0" stroke-linecap="butt"/>
<text transform="translate(1602.14,906.20) scale(1,1.06)" font-size="22.3" text-anchor="middle" fill="#000">4</text>
<line x1="1719.60" y1="877.40" x2="1719.60" y2="882.70" stroke="#333333" stroke-width="4.0" stroke-linecap="butt"/>
<text transform="translate(1719.60,906.20) scale(1,1.06)" font-size="22.3" text-anchor="middle" fill="#000">5</text>
<text x="1244.90" y="940.20" font-size="26.1" fill="#000">Time since randomization (years)</text>
</svg>
</body></html>
